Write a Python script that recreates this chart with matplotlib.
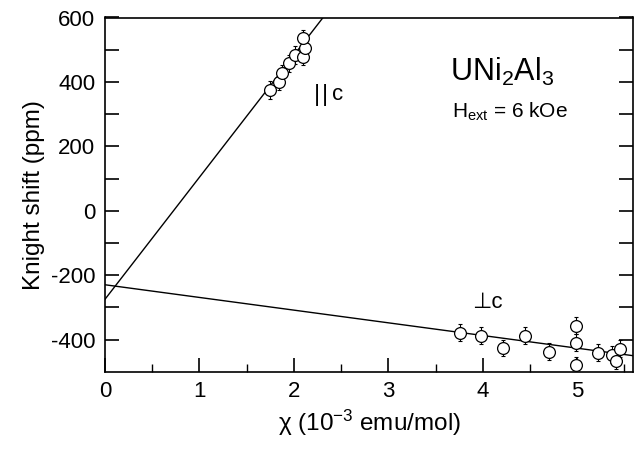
import matplotlib
matplotlib.use("Agg")
import matplotlib.pyplot as plt
import numpy as np

plt.rcParams['font.family'] = ['Liberation Sans', 'DejaVu Sans']
plt.rcParams['mathtext.fontset'] = 'custom'
plt.rcParams['mathtext.rm'] = 'Liberation Sans'
plt.rcParams['mathtext.it'] = 'Liberation Sans:italic'

# ||c data
chi_par = [1.75, 1.84, 1.87, 1.95, 2.01, 2.10, 2.12, 2.10]
ks_par = [375, 401, 427, 458, 484, 478, 504, 535]
err_par = [27, 27, 27, 27, 27, 27, 27, 27]

# perp c data
chi_perp = [3.76, 3.98, 4.21, 4.45, 4.70, 4.99, 4.99, 4.99, 5.22, 5.37, 5.41, 5.45]
ks_perp = [-379, -388, -426, -388, -438, -357, -410, -480, -441, -447, -467, -429]
err_perp = [26] * 12

# fitted lines (intercept, slope)
fit_par = (-275, 379)
fit_perp = (-230, -39.4)

xlim = (0, 5.59)
ylim = (-500, 600)

fig = plt.figure(figsize=(6.39, 4.49), dpi=100)
ax = fig.add_axes([105/639, 1-371.7/449, (633-105)/639, (371.7-17.5)/449])

xx = np.array(xlim)
ax.plot(xx, fit_par[0] + fit_par[1]*xx, color='black', lw=1.0)
ax.plot(xx, fit_perp[0] + fit_perp[1]*xx, color='black', lw=1.0)

for cx, cy, ce in [(chi_par, ks_par, err_par), (chi_perp, ks_perp, err_perp)]:
    ax.errorbar(cx, cy, yerr=ce, fmt='none', ecolor='black', elinewidth=0.8,
                capsize=1.5, capthick=0.8, zorder=2)
    ax.plot(cx, cy, 'o', ms=8.5, mfc='white', mec='black', mew=0.9, zorder=3)

ax.set_xlim(*xlim)
ax.set_ylim(*ylim)
ax.set_xticks([0, 1, 2, 3, 4, 5])
ax.set_xticks(np.arange(0.5, 5.6, 1.0), minor=True)
yt = np.arange(-400, 601, 100)
ax.set_yticks(yt)
ax.set_yticklabels([str(v) if v % 200 == 0 else '' for v in yt])
ax.tick_params(axis='both', which='major', direction='in', length=10, width=1.2,
               labelsize=16, right=True, pad=7)
ax.tick_params(axis='x', which='minor', direction='in', length=6, width=1.0)
for s in ax.spines.values():
    s.set_linewidth(1.2)

ax.set_xlabel('χ (10$^{-3}$ emu/mol)', fontsize=17.5, labelpad=4)
ax.set_ylabel('Knight shift (ppm)', fontsize=17.5, labelpad=4)

ax.text(3.65, 431, 'UNi$_2$Al$_3$', fontsize=22, ha='left', va='center')
ax.text(3.67, 307, 'H$_{\\rm ext}$ = 6 kOe', fontsize=15, ha='left', va='center')
ax.text(2.21, 360, '|', fontsize=17, ha='left', va='center')
ax.text(2.30, 360, '|', fontsize=17, ha='left', va='center')
ax.text(2.40, 360, 'c', fontsize=16, ha='left', va='center')
ax.text(3.89, -285, '⊥c', fontsize=16, ha='left', va='center')

fig.savefig('out.png', dpi=100)
